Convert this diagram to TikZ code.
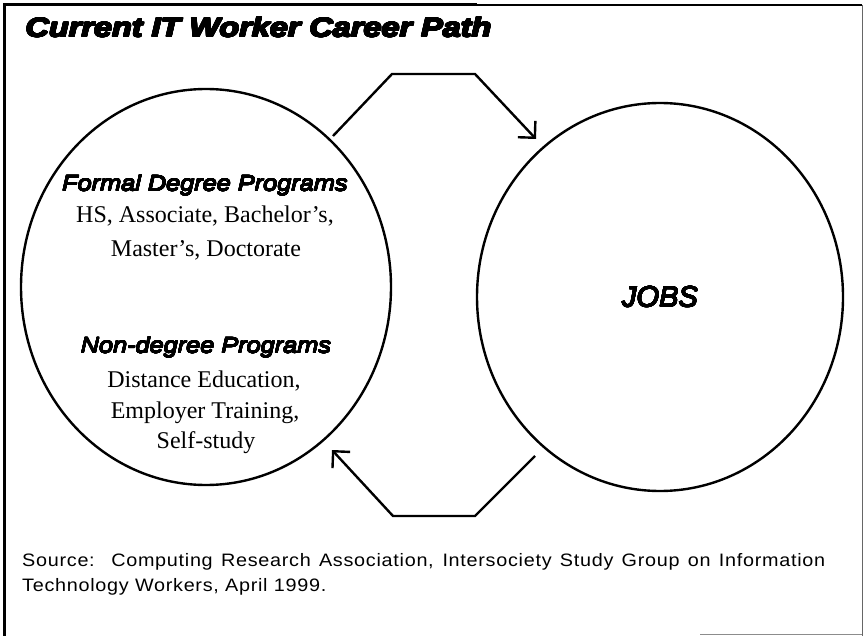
\documentclass[tikz,border=0pt]{standalone}
\usepackage{fontspec}
\usepackage{contour}
\setmainfont{Liberation Serif}
\newfontfamily\titlefont[FakeStretch=1.2]{Liberation Sans}
\newfontfamily\headfont[FakeStretch=1.15]{Liberation Sans}
\newfontfamily\plainsans{Liberation Sans}
\newfontfamily\srcfont[FakeStretch=1.1,LetterSpace=4]{Liberation Sans}
\usetikzlibrary{arrows.meta,shapes.geometric}
\newcommand{\heavytext}[2]{\contourlength{#1}\contour[24]{black}{#2}}
\begin{document}
\begin{tikzpicture}[x=1pt,y=-1pt,
  circ/.style={draw, ellipse, line width=2.4pt, inner sep=0pt},
  flow/.style={line width=2.4pt, line join=miter, -{Straight Barb[length=12pt,width=24pt]}},
  ser/.style={anchor=base, inner sep=0pt, font=\fontsize{24}{28}\selectfont},
  head/.style={anchor=base, inner sep=0pt, font=\headfont\itshape\fontsize{22}{26}\selectfont},
  src/.style={anchor=base west, inner sep=0pt, font=\srcfont\fontsize{18}{26}\selectfont},
]
\useasboundingbox (0,0) rectangle (864,636);
\fill[white] (0,0) rectangle (864,636);
% frame
\draw[line width=3pt] (4.5,636) -- (4.5,5) -- (477,5);
\draw[line width=2pt] (477,5) -- (862,5);
\draw[line width=1pt, black!60] (862,5) -- (862,636);
\draw[line width=1.5pt, black!45] (700,634.5) -- (862,634.5);
% title
\node[anchor=base west, inner sep=0pt, font=\titlefont\bfseries\itshape\fontsize{27}{30}\selectfont] (title) at (25.5,37) {\heavytext{0.75pt}{Current IT Worker Career Path}};
% circles
\node[circ, minimum width=370pt, minimum height=396pt] (edu) at (206,287) {};
\node[circ, minimum width=366pt, minimum height=388pt, font=\plainsans\itshape\fontsize{29}{32}\selectfont] (jobs) at (660,297) {\heavytext{0.45pt}{JOBS}};
% left circle text
\node[head] (formal) at (205,191) {\heavytext{0.35pt}{Formal Degree Programs}};
\node[ser] (deg1) at (205,223) {HS, Associate, Bachelor’s,};
\node[ser] (deg2) at (206,257) {Master’s, Doctorate};
\node[head] (nondeg) at (206,353) {\heavytext{0.35pt}{Non-degree Programs}};
\node[ser] (nd1) at (204,387) {Distance Education,};
\node[ser] (nd2) at (205,418) {Employer Training,};
\node[ser] (nd3) at (206,448) {Self-study};
% arrows
\coordinate (t0) at (333,136);
\coordinate (t1) at (392,74);
\coordinate (t2) at (475,74);
\coordinate (t3) at (536,139);
\draw[flow] (t0) -- (t1) -- (t2) -- (t3);
\coordinate (b0) at (535,456);
\coordinate (b1) at (475,516);
\coordinate (b2) at (393,516);
\coordinate (b3) at (332,450);
\draw[flow] (b0) -- (b1) -- (b2) -- (b3);
% source
\node[src] (src1) at (22,566) {\makebox[803pt][s]{Source:\ \ Computing Research Association, Intersociety Study Group on Information}};
\node[src] (src2) at (22,591) {Technology Workers, April 1999.};
\end{tikzpicture}
\end{document}
